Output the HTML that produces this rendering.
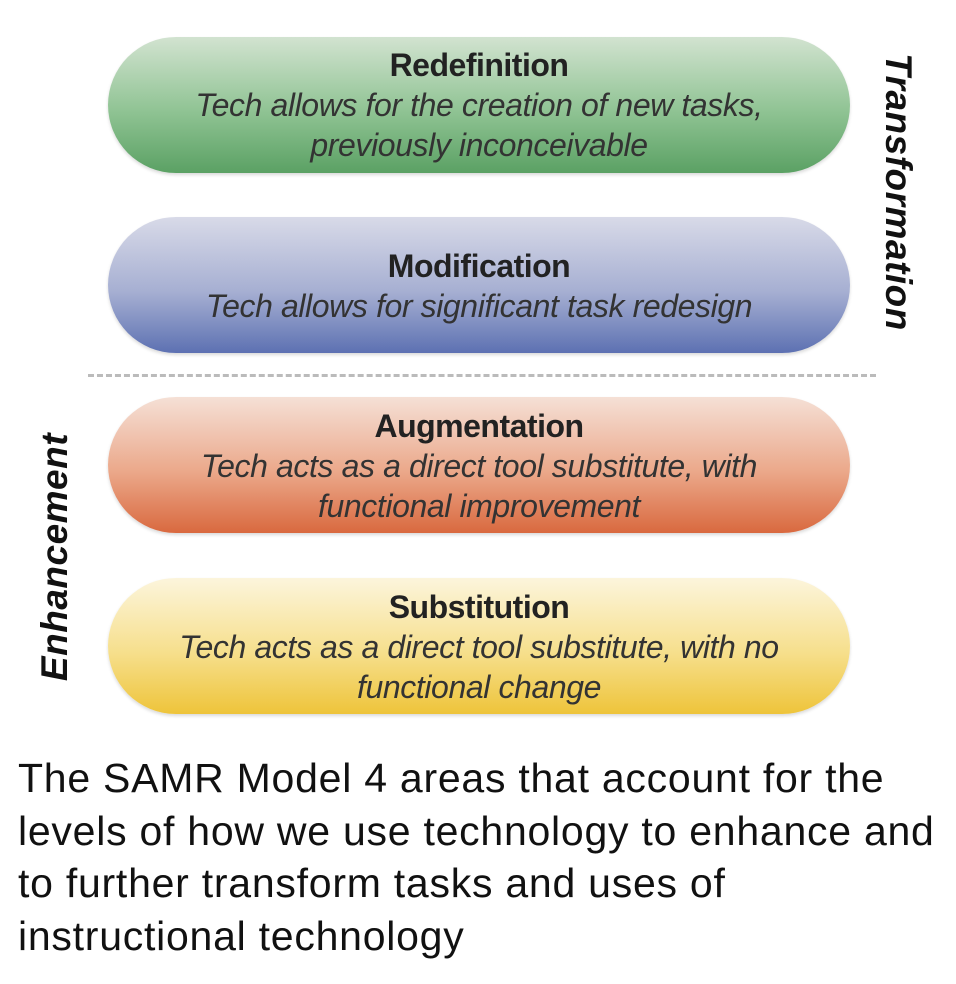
<!DOCTYPE html>
<html><head><style>
body{margin:0;width:956px;height:984px;background:#fff;position:relative;overflow:hidden;font-family:"Liberation Sans",sans-serif}
.p{position:absolute;left:108px;width:742px;height:136px;border-radius:68px;text-align:center;color:#222;box-shadow:0 2px 3px rgba(0,0,0,.15);box-sizing:border-box}
.p b{display:block;font-size:32px;line-height:36px;letter-spacing:-0.5px}
.p i{display:block;font-size:32px;letter-spacing:-0.4px;color:#333;line-height:40px;margin-top:2px}
.g{top:37px;background:linear-gradient(#d2e3d0,#8fc393 55%,#5ba164)}
.bl{top:217px;background:linear-gradient(#d8dae8,#a6afd2 55%,#5d71b2)}
.o{top:397px;background:linear-gradient(#f5e0d6,#eba88a 55%,#d9693f)}
.y{top:578px;background:linear-gradient(#fcf5dc,#f6df8c 55%,#eec43a)}
.v{position:absolute;font-weight:bold;font-style:italic;font-size:37px;letter-spacing:0.5px;color:#111;white-space:nowrap}
.cap{position:absolute;left:18px;top:752px;font-size:41px;letter-spacing:0.75px;line-height:52.5px;color:#111;white-space:nowrap}
</style></head><body>
<div class="p g" style="padding-top:10px"><b>Redefinition</b><i>Tech allows for the creation of new tasks,<br>previously inconceivable</i></div>
<div class="p bl" style="padding-top:31px"><b>Modification</b><i>Tech allows for significant task redesign</i></div>
<div style="position:absolute;left:88px;top:374px;width:788px;border-top:3px dashed #bbb"></div>
<div class="p o" style="padding-top:11px"><b>Augmentation</b><i>Tech acts as a direct tool substitute, with<br>functional improvement</i></div>
<div class="p y" style="padding-top:11px"><b>Substitution</b><i>Tech acts as a direct tool substitute, with no<br>functional change</i></div>
<div class="v" style="left:898px;top:192px;transform:translate(-50%,-50%) rotate(90deg)">Transformation</div>
<div class="v" style="left:55px;top:557px;transform:translate(-50%,-50%) rotate(-90deg)">Enhancement</div>
<div class="cap">The SAMR Model 4 areas that account for the<br>levels of how we use technology to enhance and<br>to further transform tasks and uses of<br>instructional technology</div>
</body></html>
